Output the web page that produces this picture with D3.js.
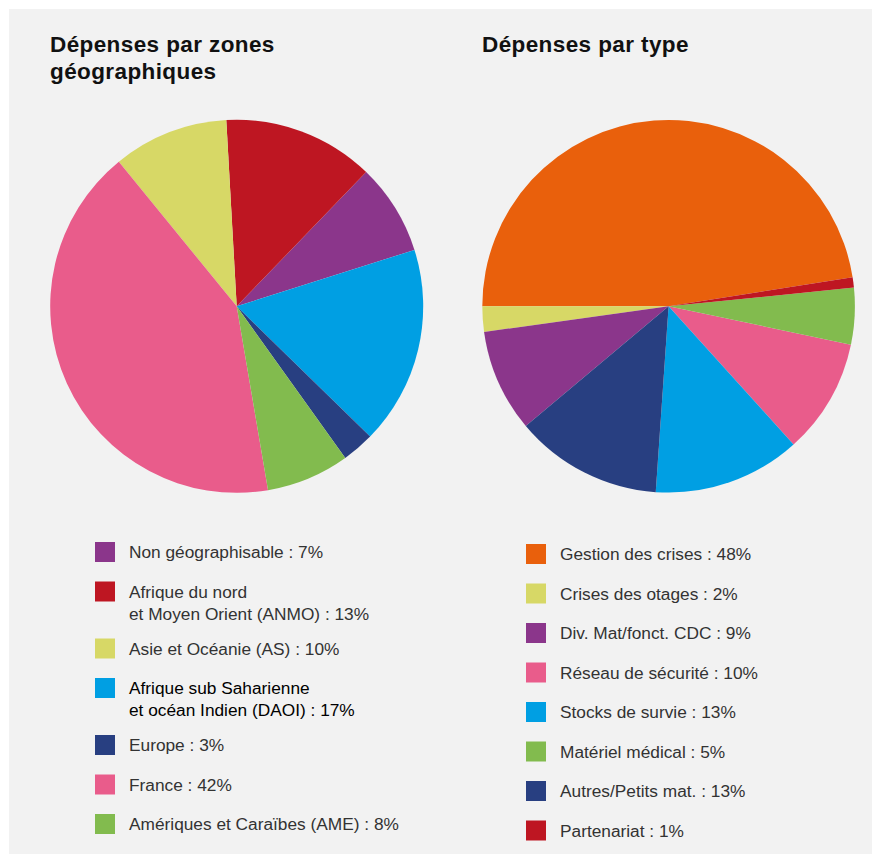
<!DOCTYPE html>
<html>
<head>
<meta charset="utf-8">
<script src="https://cdn.jsdelivr.net/npm/d3@7"></script>
<style>
  body { margin: 0; background: #fff; }
  svg { display: block; }
  text { font-family: "Liberation Sans", Arial, Helvetica, sans-serif; }
</style>
</head>
<body>
<svg id="chart" width="872" height="854"></svg>
<script>
// Left chart: spending by geographic zone (legend order)
const zoneNames = [
  ["Non géographisable : 7%"],
  ["Afrique du nord", "et Moyen Orient (ANMO) : 13%"],
  ["Asie et Océanie (AS) : 10%"],
  ["Afrique sub Saharienne", "et océan Indien (DAOI) : 17%"],
  ["Europe : 3%"],
  ["France : 42%"],
  ["Amériques et Caraïbes (AME) : 8%"],
];
const zoneValues = [7.9, 13.1, 10.0, 17.2, 2.8, 41.8, 7.2];
const zoneColors = ["#8b368b", "#be1622", "#d7d866", "#009fe3", "#283f81", "#e95c8b", "#82bb4e"];
// clockwise order of the slices, starting near 12 o'clock
const zonePieOrder = [1, 0, 3, 4, 6, 5, 2];

// Right chart: spending by type (legend order)
const typeNames = [
  ["Gestion des crises : 48%"],
  ["Crises des otages : 2%"],
  ["Div. Mat/fonct. CDC : 9%"],
  ["Réseau de sécurité : 10%"],
  ["Stocks de survie : 13%"],
  ["Matériel médical : 5%"],
  ["Autres/Petits mat. : 13%"],
  ["Partenariat : 1%"],
];
const typeValues = [47.5, 2.2, 8.9, 10.0, 12.8, 4.9, 12.8, 0.9];
const typeColors = ["#e9600c", "#d7d866", "#8b368b", "#e95c8b", "#009fe3", "#82bb4e", "#283f81", "#be1622"];
// clockwise order, starting at 9 o'clock
const typePieOrder = [0, 7, 5, 3, 4, 6, 2, 1];

const svg = d3.select("#chart");

// grey panel
svg.append("rect")
  .attr("x", 9).attr("y", 9)
  .attr("width", 863).attr("height", 845)
  .attr("fill", "#f2f2f2");

function drawPie(cx, cy, radius, values, colors, order, startDeg) {
  const data = values.map((v, i) => ({ i: i, value: v }));
  const start = startDeg * Math.PI / 180;
  const pie = d3.pie()
    .value(d => d.value)
    .sort((a, b) => order.indexOf(a.i) - order.indexOf(b.i))
    .startAngle(start)
    .endAngle(start + 2 * Math.PI);
  const arc = d3.arc().innerRadius(0).outerRadius(radius);

  const g = svg.append("g").attr("transform", "translate(" + cx + "," + cy + ")");
  g.selectAll("path")
    .data(pie(data))
    .enter()
    .append("path")
    .attr("d", arc)
    .attr("fill", d => colors[d.data.i]);
}

function drawLegend(x, y, names, colors, gap, extraLine, highlight) {
  let top = y;
  names.forEach((lines, i) => {
    svg.append("rect")
      .attr("x", x).attr("y", top)
      .attr("width", 20).attr("height", 20)
      .attr("fill", colors[i]);
    const t = svg.append("text")
      .attr("x", x + 34).attr("y", top + 16)
      .attr("font-size", 17.3)
      .attr("fill", i === highlight ? "#000" : "#333");
    lines.forEach((line, k) => {
      t.append("tspan")
        .attr("x", x + 34)
        .attr("dy", k === 0 ? 0 : 22)
        .text(line);
    });
    top += gap + (lines.length - 1) * extraLine;
  });
}

function drawTitle(x, y, lines) {
  const t = svg.append("text")
    .attr("x", x).attr("y", y)
    .attr("font-size", 22.5)
    .attr("font-weight", "bold")
    .attr("letter-spacing", 0.4)
    .attr("fill", "#111");
  lines.forEach((line, k) => {
    t.append("tspan").attr("x", x).attr("dy", k === 0 ? 0 : 27).text(line);
  });
}

drawTitle(50, 52, ["Dépenses par zones", "géographiques"]);
drawTitle(482, 52, ["Dépenses par type"]);

drawPie(236.7, 306.3, 186.5, zoneValues, zoneColors, zonePieOrder, -3.2);
drawPie(668.6, 306.3, 186.3, typeValues, typeColors, typePieOrder, -90);

drawLegend(95, 542, zoneNames, zoneColors, 39.5, 17.5, 3);
drawLegend(526, 544, typeNames, typeColors, 39.5, 0, -1);
</script>
</body>
</html>
